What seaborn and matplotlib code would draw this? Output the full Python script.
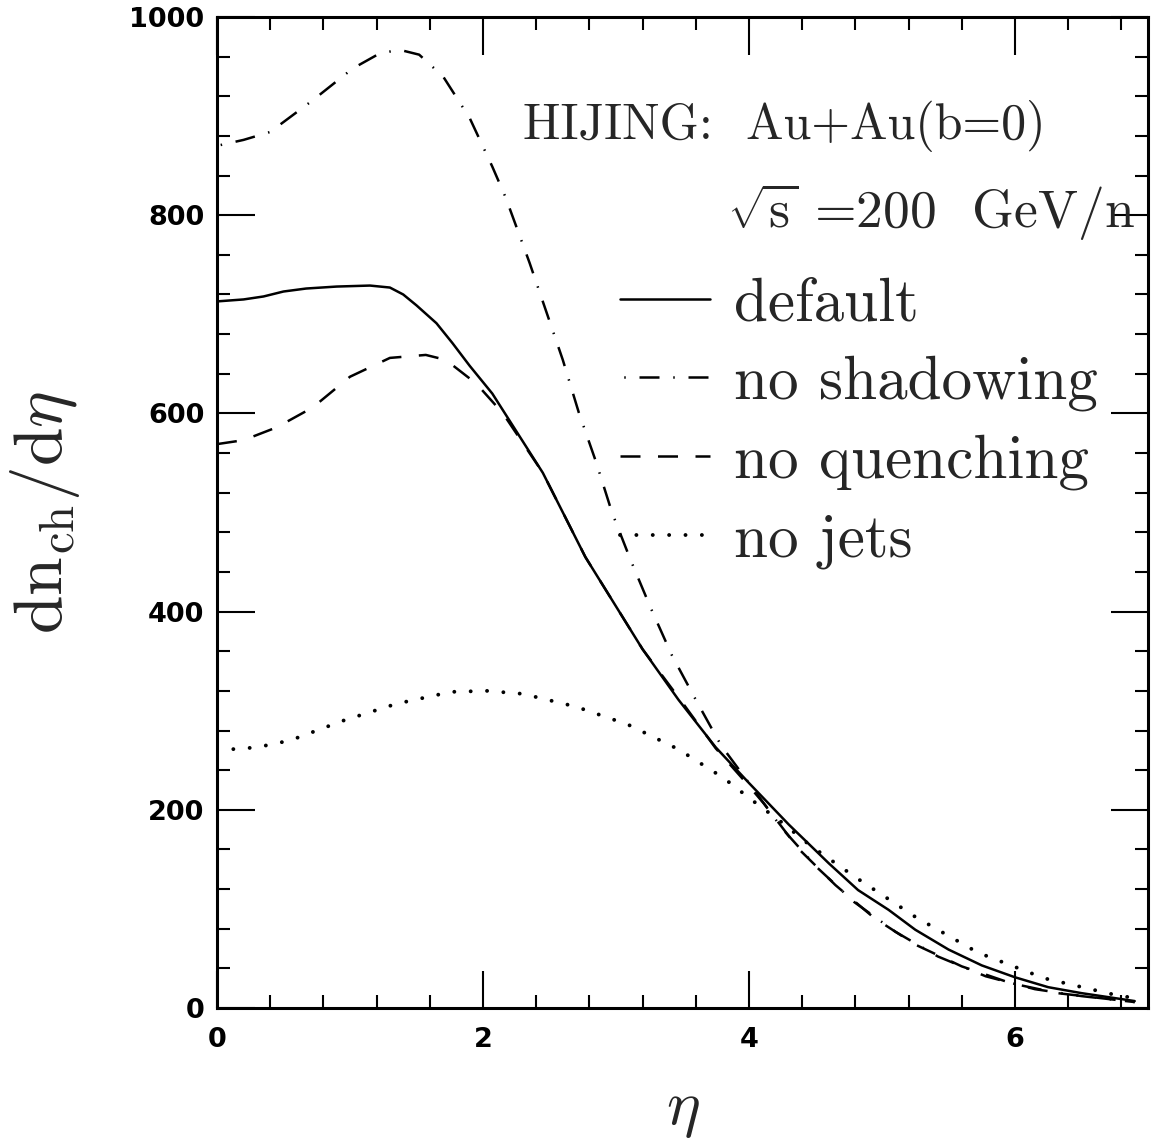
import numpy as np
import pandas as pd
import matplotlib
matplotlib.use("Agg")
import matplotlib.pyplot as plt
import seaborn as sns

# ---------------- data ----------------
eta_default = [0, 0.2, 0.35, 0.5, 0.67, 0.9, 1.15, 1.3, 1.4, 1.5, 1.65, 1.77, 1.9, 2.07,
               2.45, 2.77, 3.2, 3.47, 3.75, 4.0, 4.3, 4.6, 4.82, 5.05, 5.25, 5.5,
               5.75, 6.0, 6.25, 6.5, 6.9]
dn_default = [713, 715, 718, 723, 726, 728, 729, 727, 720, 709, 691, 671, 648, 620,
              540, 455, 362, 311, 263, 227, 185, 146, 119, 99, 79, 59,
              43, 31, 21, 15, 7]

eta_noquench = [0, 0.2, 0.45, 0.72, 1.0, 1.3, 1.57, 1.72, 1.95, 2.15, 2.45, 2.77,
                3.2, 3.5, 3.75, 4.0, 4.12, 4.37, 4.65, 4.94, 5.25, 5.6, 5.97, 6.32, 6.9]
dn_noquench = [569, 573, 586, 606, 637, 656, 659, 654, 630, 600, 540, 455,
               362, 308, 262, 224, 205, 161, 124, 91, 64, 42, 25, 15, 6]

eta_noshadow = [0, 0.2, 0.4, 0.72, 1.02, 1.22, 1.37, 1.52, 1.7, 1.9, 2.07, 2.17, 2.35,
                2.6, 2.72, 2.85, 2.97, 3.11, 3.26, 3.42, 3.6, 3.79, 4.0, 4.25, 4.51,
                4.79, 5.1, 5.42, 5.78, 6.15, 6.5, 6.9]
dn_noshadow = [870, 876, 884, 916, 948, 963, 967, 962, 940, 898, 849, 818, 752,
               654, 601, 551, 500, 452, 404, 356, 311, 265, 227, 181, 142,
               107, 77, 52, 32, 19, 12, 6]

eta_nojets = [0, 0.3, 0.55, 0.95, 1.35, 1.76, 2.03, 2.3, 2.7, 3.09, 3.47, 3.81, 4.02,
              4.25, 4.46, 4.8, 5.25, 5.72, 6.22, 6.76, 6.9]
dn_nojets = [260, 263, 270, 290, 307, 319, 320, 317, 304, 286, 261, 232, 210,
             187, 164, 132, 92, 56, 30, 13, 10]

labels = ["default", "no shadowing", "no quenching", "no jets"]
x_ticks = [0, 2, 4, 6]
y_ticks = [0, 200, 400, 600, 800, 1000]

# ---------------- style ----------------
sns.set_theme(style="ticks")
plt.rcParams["mathtext.fontset"] = "cm"
plt.rcParams["axes.unicode_minus"] = False
plt.rcParams["font.family"] = ["DejaVu Sans"]

fig = plt.figure(figsize=(11.51, 11.43), dpi=100)
ax = fig.add_axes([217 / 1151, 1 - 1008 / 1143, (1148 - 217) / 1151, (1008 - 17) / 1143])

series = [
    (eta_default, dn_default, "-", 1.8),
    (eta_noshadow, dn_noshadow, (12, (8, 5.5, 0.6, 5.5)), 1.8),
    (eta_noquench, dn_noquench, (0, (8, 7)), 1.8),
    (eta_nojets, dn_nojets, (0, (0.01, 4.2)), 2.8),
]
for (xs, ys, ls, lw), lab in zip(series, labels):
    df = pd.DataFrame({"eta": xs, "dn": ys})
    sns.lineplot(data=df, x="eta", y="dn", ax=ax, color="black", linewidth=lw,
                 linestyle=ls, label=lab, sort=False, estimator=None)

for ln in ax.lines:
    ln.set_dash_capstyle("round" if ln.get_label() == "no jets" else "butt")

ax.set_xlim(0, 7)
ax.set_ylim(0, 1000)
ax.set_xticks(x_ticks)
ax.set_yticks(y_ticks)
ax.set_xticks(np.arange(0, 7.0, 0.4), minor=True)
ax.set_yticks(np.arange(0, 1001, 40), minor=True)
ax.tick_params(which="both", direction="in", top=True, right=True, width=1.5, color="black")
ax.tick_params(which="major", length=27)
ax.tick_params(which="minor", length=9.5)
ax.tick_params(axis="x", which="major", pad=14)
ax.tick_params(axis="y", which="major", pad=9)
for t in ax.get_xticklabels() + ax.get_yticklabels():
    t.set_fontsize(19.5)
    t.set_fontweight("bold")
    t.set_color("black")
for sp in ax.spines.values():
    sp.set_linewidth(2.2)
    sp.set_color("black")

ax.set_xlabel(r"$\eta$", fontsize=46, labelpad=18)
ax.set_ylabel(r"$\mathrm{dn_{ch}/d}\eta$", fontsize=50, labelpad=34)

ax.text(0.329, 0.89, "HIJING:  Au+Au(b=0)", transform=ax.transAxes, fontsize=36,
        family="cmr10", va="center", ha="left")
ax.text(0.548, 0.803, r"$\sqrt{\mathrm{s}}$ =200  GeV/n", transform=ax.transAxes,
        fontsize=38.5, family="cmr10", va="center", ha="left")

leg = ax.legend(loc="upper left", bbox_to_anchor=(0.433, 0.738), bbox_transform=ax.transAxes,
                frameon=False, prop={"family": "cmr10", "size": 44}, handlelength=1.47,
                handletextpad=0.4, labelspacing=0.38, borderpad=0, borderaxespad=0)

fig.savefig("out.png", dpi=100, facecolor="white")
